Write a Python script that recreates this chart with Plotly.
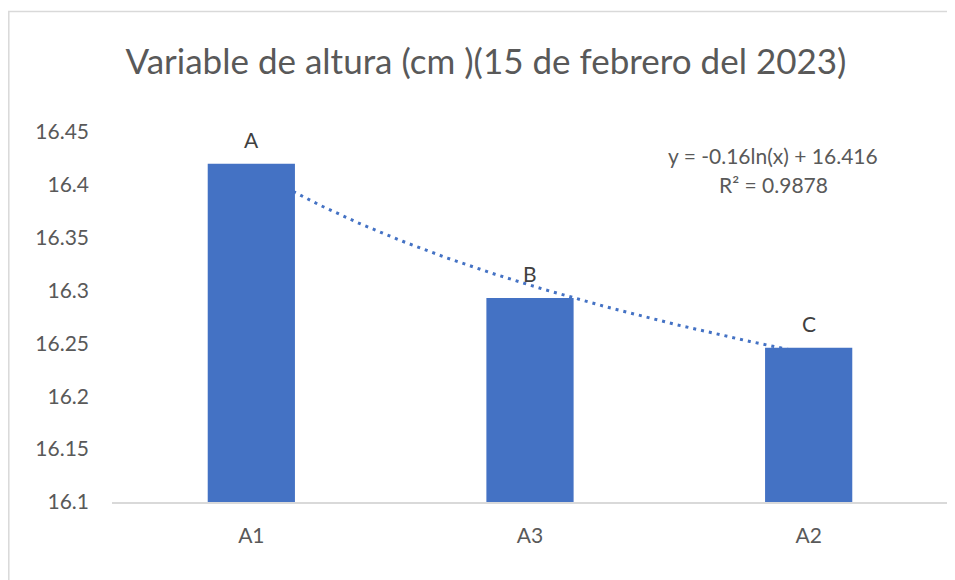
import numpy as np
import plotly.graph_objects as go

# ---- data ----
categories = ["A1", "A3", "A2"]
heights = [16.420, 16.293, 16.246]
letters = ["A", "B", "C"]
trend_slope = -0.16
trend_intercept = 16.416
r_squared = 0.9878
y_range = [16.1, 16.45]
y_ticks = [16.1, 16.15, 16.2, 16.25, 16.3, 16.35, 16.4, 16.45]
y_ticktext = ["16.1", "16.15", "16.2", "16.25", "16.3", "16.35", "16.4", "16.45"]
title_text = "Variable de altura (cm )(15 de febrero del 2023)"

FONT = "Lato"
BAR = "#4472C4"
TXT = "#595959"
DARK = "#404040"

xpos = list(range(len(categories)))
# trendline: Excel-style log fit evaluated on category positions 1..n
tx = np.linspace(0, len(categories) - 1, 200)
ty = trend_slope * np.log(tx + 1) + trend_intercept

fig = go.Figure()
fig.add_trace(go.Scatter(
    x=tx, y=ty, mode="lines", xaxis="x", yaxis="y",
    line=dict(color=BAR, width=3, dash="3px,5px"),
    hoverinfo="skip", showlegend=False))
fig.add_trace(go.Bar(
    x=xpos, y=[h - y_range[0] for h in heights], base=y_range[0],
    xaxis="x", yaxis="y2", marker=dict(color=BAR, line=dict(width=0)),
    showlegend=False))

for i, (h, t) in enumerate(zip(heights, letters)):
    fig.add_annotation(x=i, y=h, xref="x", yref="y", text=t, showarrow=False,
                       yshift=24, font=dict(family=FONT, size=21, color=DARK))

# page body has an 8px margin; compensate so the figure lands where the reference is
OFF = 8
W, H = 955, 580
ml, mt = 112 - OFF, 132 - OFF
pw, ph = 836, 370
mr = W - ml - pw
mb = H - mt - ph

def px2paper_x(p):
    return (p - OFF - ml) / pw

def px2paper_y(p):
    return (mt + ph - (p - OFF)) / ph

for txt, py in [(f"y = {trend_slope:g}ln(x) + {trend_intercept:g}", 155),
                (f"R² = {r_squared:g}", 184)]:
    fig.add_annotation(x=px2paper_x(773), y=px2paper_y(py), xref="paper", yref="paper",
                       xanchor="center", yanchor="middle", text=txt, showarrow=False,
                       font=dict(family=FONT, size=21, color=TXT))

fig.add_shape(type="rect", xref="paper", yref="paper",
              x0=px2paper_x(OFF + 0.8), x1=px2paper_x(W + 20),
              y0=px2paper_y(H + 20), y1=px2paper_y(11.5),
              line=dict(color="#d9d9d9", width=1.5), fillcolor="rgba(0,0,0,0)", layer="below")

yax = dict(range=y_range, tickvals=y_ticks, ticktext=y_ticktext, showgrid=False,
           zeroline=False, showline=False, ticks="", ticklabelstandoff=22,
           tickfont=dict(family=FONT, size=21, color=TXT))
fig.update_layout(
    width=W, height=H,
    margin=dict(l=ml, r=mr, t=mt, b=mb, pad=0),
    paper_bgcolor="white", plot_bgcolor="white",
    bargap=0.687,
    title=dict(text=title_text, x=(486 - OFF) / W, xanchor="center", y=1 - (62 - OFF) / H,
               yanchor="middle", font=dict(family=FONT, size=35, color=TXT)),
    xaxis=dict(range=[-0.5, len(categories) - 0.5], tickvals=xpos, ticktext=categories,
               showgrid=False, zeroline=False, showline=True, linecolor="#d9d9d9", linewidth=1.5,
               ticks="", ticklabelstandoff=14, tickfont=dict(family=FONT, size=21, color=TXT)),
    yaxis=yax,
    yaxis2=dict(yax, overlaying="y", showticklabels=False),
)

fig.write_html("out.html")
